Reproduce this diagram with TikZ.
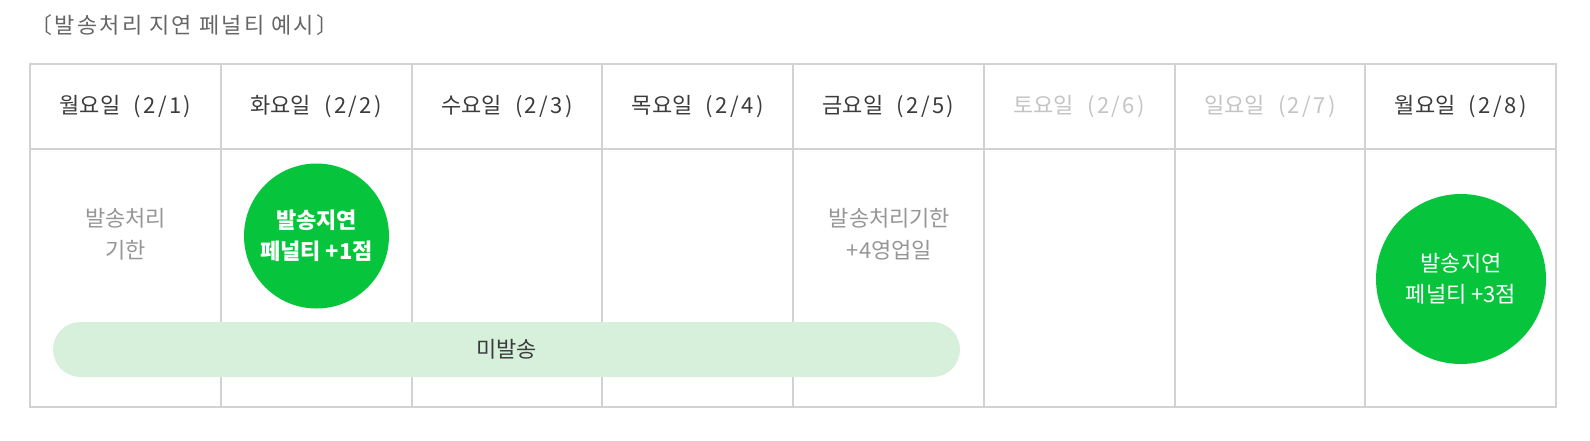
\documentclass[tikz,border=0pt]{standalone}
\usepackage{fontspec}
\setmainfont{Noto Sans CJK KR}
\definecolor{gridgray}{RGB}{210,210,210}
\definecolor{titletext}{RGB}{102,102,102}
\definecolor{daytext}{RGB}{60,60,60}
\definecolor{offtext}{RGB}{196,196,196}
\definecolor{notetext}{RGB}{150,150,150}
\definecolor{penaltygreen}{RGB}{6,196,60}
\definecolor{pendinggreen}{RGB}{214,240,220}
\tikzset{every picture/.style={line width=0.75pt}}
\tikzset{
  gridline/.style={draw=gridgray, line width=1.5pt},
  daylabel/.style={inner sep=0.75pt, font=\fontsize{16.5}{20}\selectfont},
  note/.style={inner sep=0.75pt, align=center, text=notetext, font=\fontsize{16.5}{24}\selectfont},
  penalty/.style={circle, fill=penaltygreen, text=white, align=center, inner sep=0pt, font=\fontsize{16.5}{23}\selectfont},
  penaltybold/.style={penalty, font=\bfseries\fontsize{16.5}{23}\selectfont},
  pending/.style={fill=pendinggreen, text=daytext, rounded corners=20.6pt, inner sep=0pt, font=\fontsize{16.5}{20}\selectfont}
}
\newcommand{\datepart}[1]{\hspace{10pt}{\addfontfeature{LetterSpace=11}#1}}

\begin{document}
\begin{tikzpicture}[x=0.75pt,y=0.75pt,yscale=-1,xscale=1]
\useasboundingbox (0,0) rectangle (1590,440);

% Text Node
\node [anchor=west, inner sep=0pt, text=titletext, font=\fontsize{16.5}{20}\selectfont\addfontfeature{LetterSpace=10}] (title) at (30,25) {〔발송처리 지연 페널티 예시〕};

%Table grid
\draw [gridline] (30,64) rectangle (1556,407);
\draw [gridline] (30,149) -- (1556,149);
\foreach \i in {1,...,7}
  \draw [gridline] ({30+190.75*\i},64) -- ({30+190.75*\i},407);

%Day headers
\foreach \w/\n/\c in {월/1/daytext,화/2/daytext,수/3/daytext,목/4/daytext,금/5/daytext,토/6/offtext,일/7/offtext,월/8/daytext}
  \node [daylabel, text=\c] (day\n) at ({30+190.75*(\n-0.5)},107) {{\w}요일\datepart{(2/\n)}};

%Bar: not shipped
\node [pending, minimum width=680.25pt, minimum height=41.25pt] (pending) at (506.5,349.5) {미발송};

%Circles: penalty
\node [penaltybold, minimum size=108.75pt] (late1) at (316.5,236) {발송지연\\페널티 +1점};
\node [penalty, minimum size=127.5pt] (late3) at (1461,279) {발송지연\\페널티 +3점};

% Text Node
\node [note] (deadline) at (125.5,234) {발송처리\\기한};
% Text Node
\node [note] (extended) at (889.5,234) {발송처리기한\\+4영업일};
\end{tikzpicture}
\end{document}
